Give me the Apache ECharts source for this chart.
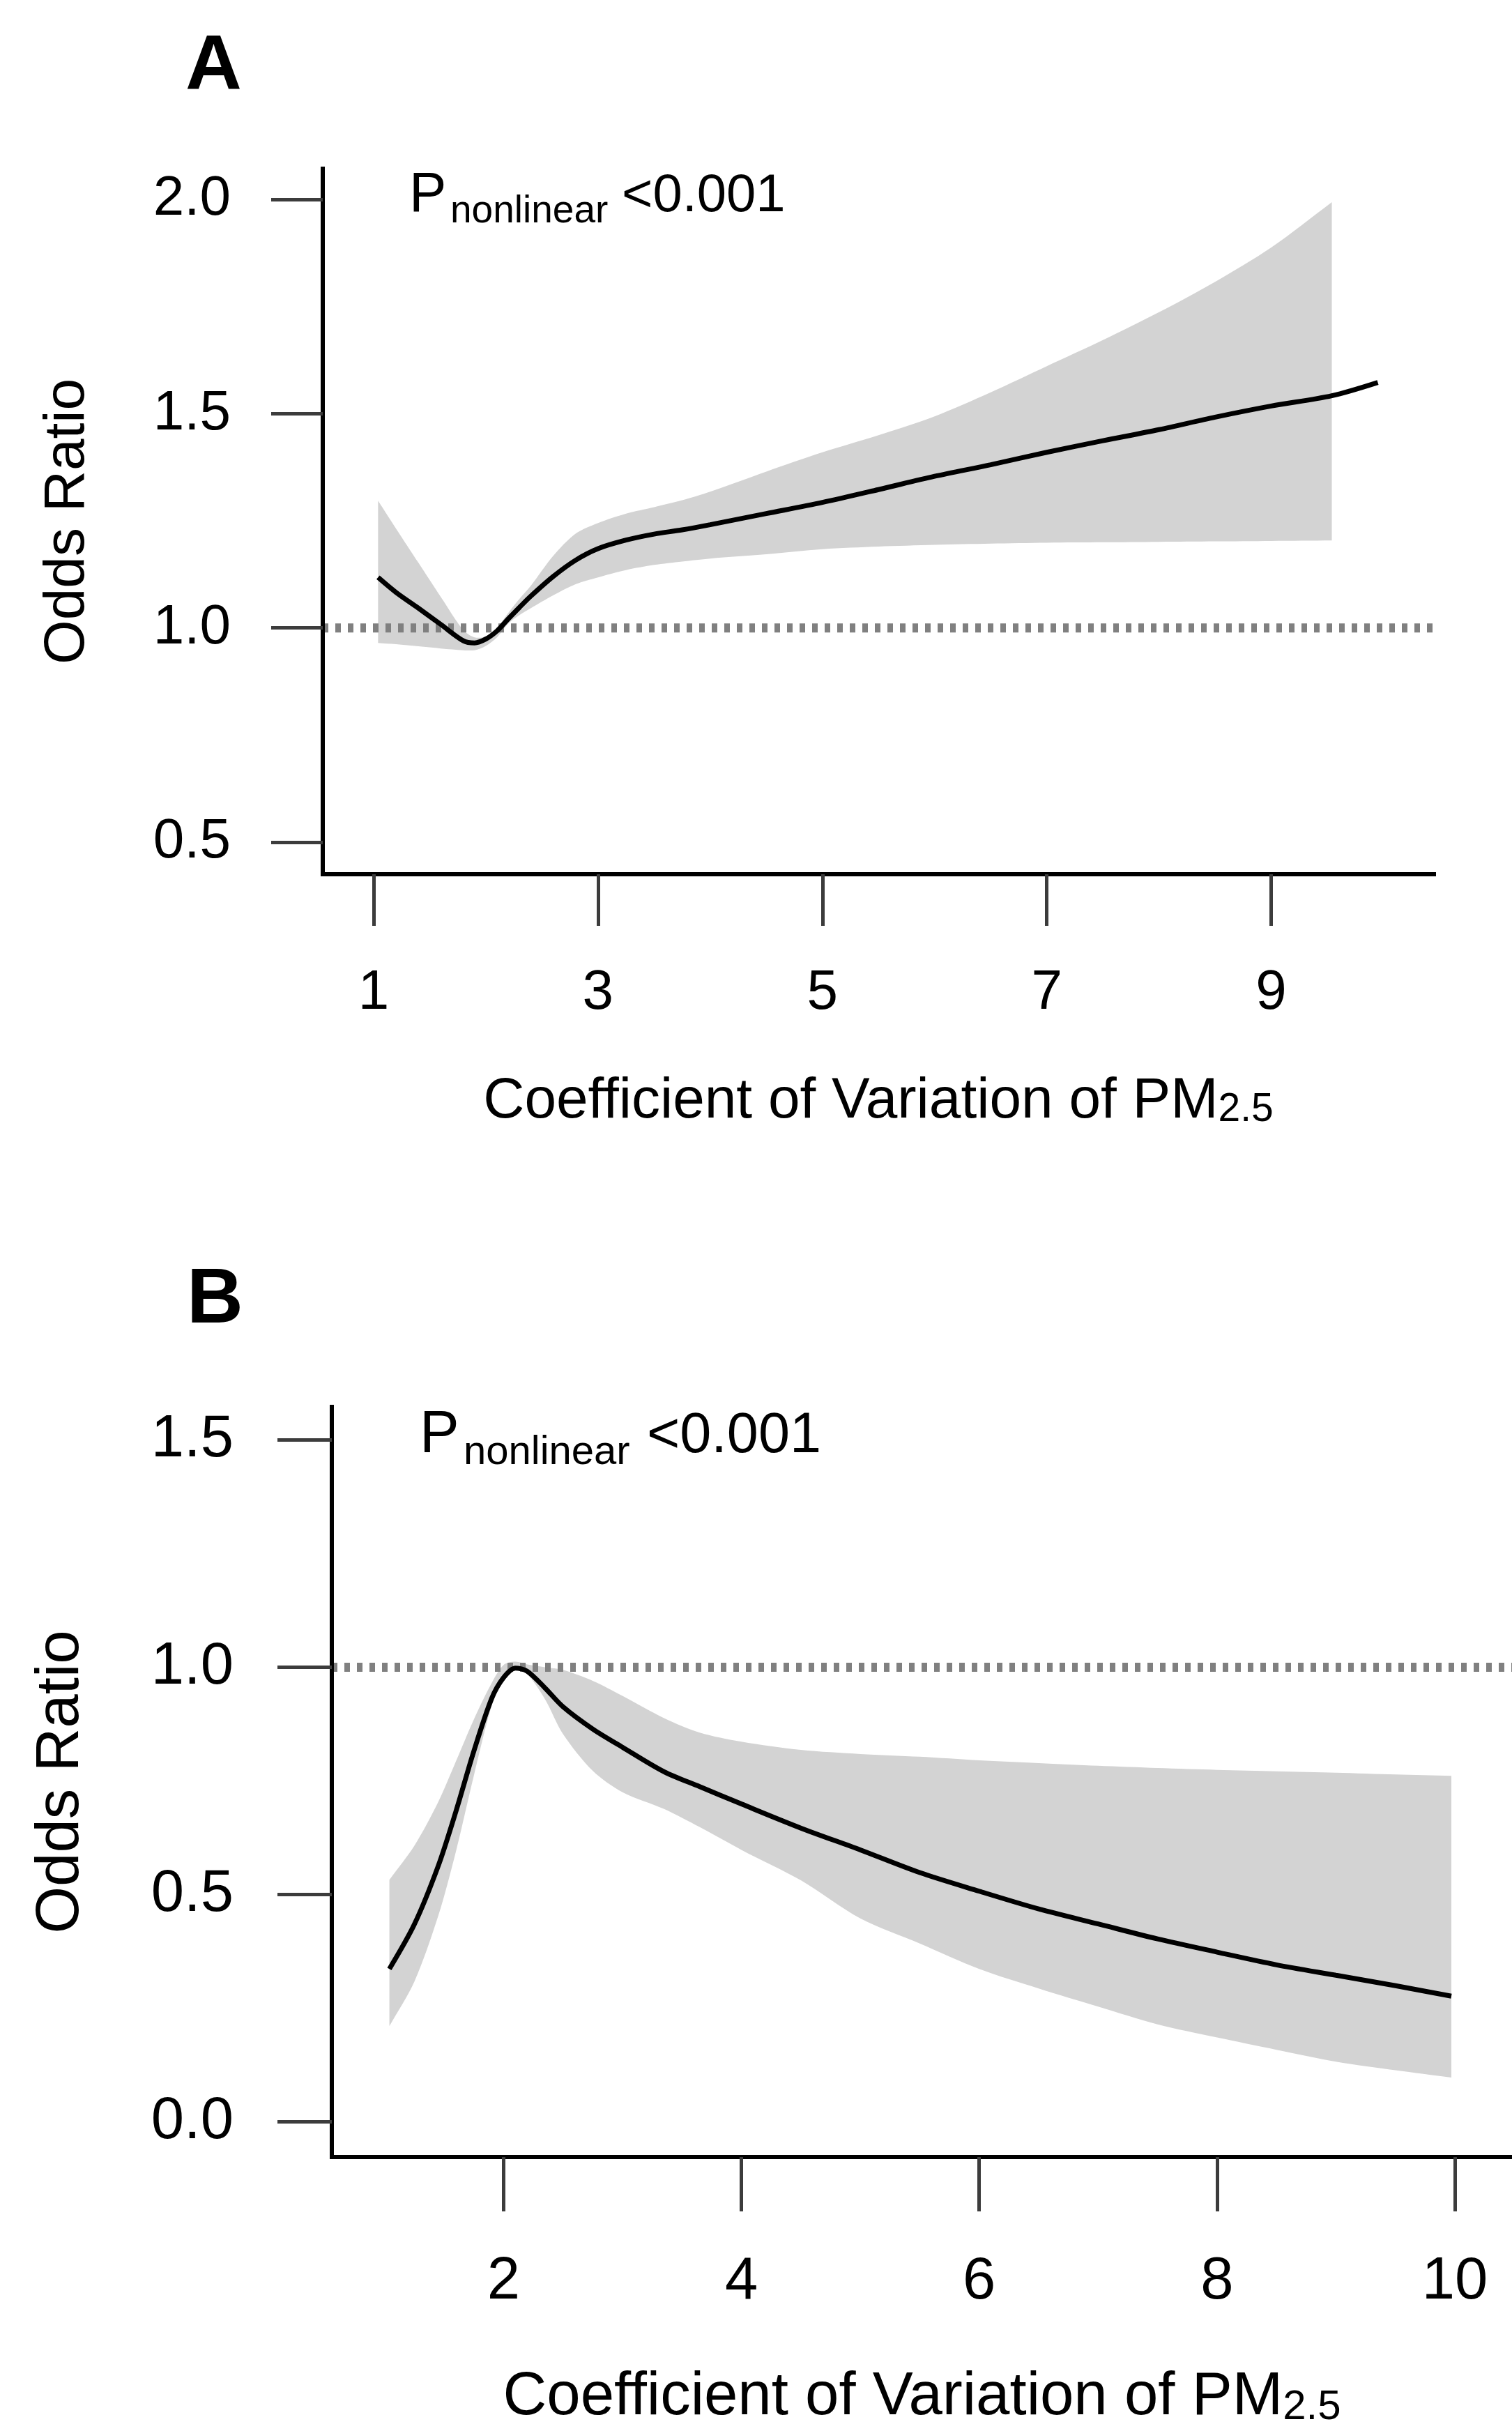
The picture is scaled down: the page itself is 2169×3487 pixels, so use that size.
<!DOCTYPE html>
<html>
<head>
<meta charset="utf-8">
<title>Odds Ratio vs Coefficient of Variation of PM2.5</title>
<script src="https://cdn.jsdelivr.net/npm/echarts@6/dist/echarts.min.js"></script>
<style>
    html, body { margin: 0; padding: 0; background: #fff; }
    #chart { width: 2169px; height: 3487px; }
</style>
</head>
<body>
<div id="chart"></div>
<script>
// ---- panel A ----
var cvA = [1.04, 1.2, 1.4, 1.6, 1.8, 1.9, 2.0, 2.1, 2.2, 2.3, 2.4, 2.6, 2.8, 3.0, 3.25, 3.5, 3.75, 4.0,
           4.5, 5.0, 5.5, 6.0, 6.5, 7.0, 7.5, 8.0, 8.5, 9.0, 9.54, 9.95];
var orA = [1.118, 1.083, 1.046, 1.008, 0.970, 0.965, 0.974, 0.993, 1.021, 1.048, 1.074, 1.120, 1.158, 1.185,
           1.205, 1.219, 1.229, 1.241, 1.267, 1.293, 1.323, 1.354, 1.381, 1.410, 1.437, 1.463, 1.492, 1.518,
           1.542, 1.573];
// confidence band stops at cv = 9.54 (first 29 points of cvA)
var loA = [0.965, 0.962, 0.957, 0.952, 0.948, 0.948, 0.958, 0.978, 1.010, 1.030, 1.046, 1.076, 1.102, 1.118,
           1.135, 1.147, 1.155, 1.162, 1.172, 1.184, 1.190, 1.194, 1.197, 1.199, 1.200, 1.201, 1.202, 1.203,
           1.204];
var hiA = [1.297, 1.232, 1.152, 1.072, 0.995, 0.978, 0.980, 1.000, 1.035, 1.068, 1.098, 1.168, 1.220, 1.245,
           1.267, 1.282, 1.298, 1.318, 1.365, 1.410, 1.450, 1.494, 1.550, 1.611, 1.672, 1.737, 1.808, 1.888,
           1.994];
var xTicksA = [1, 3, 5, 7, 9];
var yTicksA = [0.5, 1.0, 1.5, 2.0];

// ---- panel B ----
var cvB = [1.04, 1.25, 1.45, 1.6, 1.75, 1.9, 2.0, 2.1, 2.2, 2.35, 2.5, 2.75, 3.0, 3.35, 3.65, 4.0, 4.5, 5.0,
           5.5, 6.0, 6.5, 7.0, 7.5, 8.0, 8.5, 9.0, 9.5, 9.97];
var orB = [0.336, 0.434, 0.562, 0.683, 0.815, 0.931, 0.977, 0.998, 0.991, 0.954, 0.913, 0.864, 0.824, 0.770,
           0.737, 0.699, 0.646, 0.598, 0.548, 0.507, 0.468, 0.435, 0.402, 0.373, 0.345, 0.322, 0.299, 0.276];
var loB = [0.210, 0.308, 0.452, 0.595, 0.761, 0.915, 0.975, 0.998, 0.985, 0.929, 0.853, 0.772, 0.725, 0.688,
           0.648, 0.598, 0.531, 0.447, 0.392, 0.336, 0.293, 0.253, 0.214, 0.185, 0.158, 0.132, 0.113, 0.097];
var hiB = [0.532, 0.607, 0.703, 0.793, 0.885, 0.965, 1.005, 1.012, 1.006, 1.000, 0.994, 0.970, 0.937, 0.888,
           0.856, 0.836, 0.818, 0.809, 0.803, 0.795, 0.789, 0.783, 0.778, 0.774, 0.771, 0.768, 0.764, 0.761];
var xTicksB = [2, 4, 6, 8, 10];
var yTicksB = [0.0, 0.5, 1.0, 1.5];

var refOR = 1.0;
var pText = '<0.001';

var FONT = "'Liberation Sans', Arial, Helvetica, sans-serif";
var K = 0.34; // alphabetic baseline below the 'middle' line, in em
var SMOOTH = 0.3;

// layout per panel (pixels)
var P = [
    { left: 463, top: 242, width: 1594, height: 1012, xmin: 0.547, xmax: 10.45, ymin: 0.425, ymax: 2.072,
      font: 80, titleFont: 82, subFont: 57, tickLen: 74, tickW: 5, xLabelMargin: 131, yLabelMargin: 132,
      xNameGap: 285, yNameGap: 325, letter: 'A', letterX: 266, letterBase: 135,
      pX: 587, pBase: 308, subX: 646, subBase: 323, valX: 892, pFont: 80, pSub: 55, valFont: 76 },
    { left: 476, top: 2018, width: 1693, height: 1076, xmin: 0.556, xmax: 10.48, ymin: -0.078, ymax: 1.573,
      font: 85, titleFont: 87, subFont: 60, tickLen: 78, tickW: 5, xLabelMargin: 137, yLabelMargin: 141,
      xNameGap: 302, yNameGap: 344, letter: 'B', letterX: 268, letterBase: 1904,
      pX: 602, pBase: 2088, subX: 665, subBase: 2104, valX: 928, pFont: 85, pSub: 58, valFont: 81 }
];

function xAxisCfg(i, ticks) {
    var s = P[i];
    return {
        type: 'value', gridIndex: i, min: s.xmin, max: s.xmax, z: 5,
        splitLine: { show: false },
        axisLine: { show: true, onZero: false, lineStyle: { color: '#000', width: 6, cap: 'square' } },
        axisTick: { show: true, length: s.tickLen, customValues: ticks,
                    lineStyle: { color: '#3c3c3c', width: s.tickW } },
        axisLabel: { customValues: ticks, margin: s.xLabelMargin, color: '#000',
                     fontSize: s.font, lineHeight: s.font, fontFamily: FONT },
        name: '{m|Coefficient of Variation of PM}{s|2.5}',
        nameLocation: 'middle', nameGap: s.xNameGap,
        nameTextStyle: {
            rich: {
                m: { fontSize: s.titleFont, lineHeight: s.titleFont, fontFamily: FONT, color: '#000', verticalAlign: 'bottom' },
                s: { fontSize: s.subFont, lineHeight: 30, fontFamily: FONT, color: '#000', verticalAlign: 'bottom' }
            }
        }
    };
}

function yAxisCfg(i, ticks) {
    var s = P[i];
    return {
        type: 'value', gridIndex: i, min: s.ymin, max: s.ymax, z: 5,
        splitLine: { show: false },
        axisLine: { show: true, onZero: false, lineStyle: { color: '#000', width: 6, cap: 'square' } },
        axisTick: { show: true, length: s.tickLen, customValues: ticks,
                    lineStyle: { color: '#3c3c3c', width: s.tickW } },
        axisLabel: { customValues: ticks, margin: s.yLabelMargin, color: '#000',
                     fontSize: s.font, lineHeight: s.font, fontFamily: FONT,
                     formatter: function (v) { return v.toFixed(1); } },
        name: 'Odds Ratio', nameLocation: 'middle', nameGap: s.yNameGap,
        nameTextStyle: { fontSize: s.titleFont, lineHeight: s.titleFont, fontFamily: FONT, color: '#000' }
    };
}

function pairs(xs, ys) {
    return ys.map(function (y, k) { return [xs[k], y]; });
}

// grey confidence band drawn as one smoothed polygon, points mapped through the axes.
// corner points are repeated so the smoothing keeps the vertical ends straight.
function bandSeries(i, xs, lo, hi) {
    return {
        type: 'custom', xAxisIndex: i, yAxisIndex: i, z: 1, silent: true,
        data: lo.map(function (v, k) { return [xs[k], v, hi[k]]; }),
        encode: { x: 0, y: [1, 2] },
        renderItem: function (params, api) {
            if (params.dataIndexInside !== 0) return;
            var n = lo.length, upper = [], lower = [];
            for (var k = 0; k < n; k++) {
                upper.push(api.coord([xs[k], hi[k]]));
                lower.push(api.coord([xs[k], lo[k]]));
            }
            upper.unshift(upper[0].slice());
            upper.push(upper[upper.length - 1].slice());
            lower.unshift(lower[0].slice());
            lower.push(lower[lower.length - 1].slice());
            var pts = upper.concat(lower.reverse());
            return {
                type: 'polygon',
                shape: { points: pts, smooth: SMOOTH },
                style: { fill: '#d3d3d3' }
            };
        }
    };
}

function refSeries(i) {
    return {
        type: 'line', xAxisIndex: i, yAxisIndex: i, z: 2, silent: true, symbol: 'none',
        data: [[P[i].xmin, refOR], [P[i].xmax, refOR]],
        lineStyle: { color: '#808080', width: 13, type: [8, 10], cap: 'butt' }
    };
}

function curveSeries(i, xs, ys) {
    return {
        type: 'line', xAxisIndex: i, yAxisIndex: i, z: 3, silent: true, symbol: 'none',
        smooth: SMOOTH, data: pairs(xs, ys),
        lineStyle: { color: '#000', width: 7, cap: 'butt' }
    };
}

function txt(x, base, text, size, weight) {
    return { type: 'text', x: x, y: base - K * size, silent: true,
             style: { text: text, fontSize: size, fontFamily: FONT, fontWeight: weight || 'normal',
                      fill: '#000', align: 'left', verticalAlign: 'middle' } };
}

var graphics = [];
P.forEach(function (s) {
    graphics.push(txt(s.letterX, s.letterBase, s.letter, 112, 'bold'));
    graphics.push(txt(s.pX, s.pBase, 'P', s.pFont));
    graphics.push(txt(s.subX, s.subBase, 'nonlinear', s.pSub));
    graphics.push(txt(s.valX, s.pBase, pText, s.valFont));
});

var chart = echarts.init(document.getElementById('chart'), null, { renderer: 'canvas' });
chart.setOption({
    animation: false,
    backgroundColor: '#fff',
    grid: P.map(function (s) {
        return { left: s.left, top: s.top, width: s.width, height: s.height, containLabel: false };
    }),
    xAxis: [xAxisCfg(0, xTicksA), xAxisCfg(1, xTicksB)],
    yAxis: [yAxisCfg(0, yTicksA), yAxisCfg(1, yTicksB)],
    series: [
        bandSeries(0, cvA, loA, hiA), refSeries(0), curveSeries(0, cvA, orA),
        bandSeries(1, cvB, loB, hiB), refSeries(1), curveSeries(1, cvB, orB)
    ],
    graphic: graphics
});
</script>
</body>
</html>
